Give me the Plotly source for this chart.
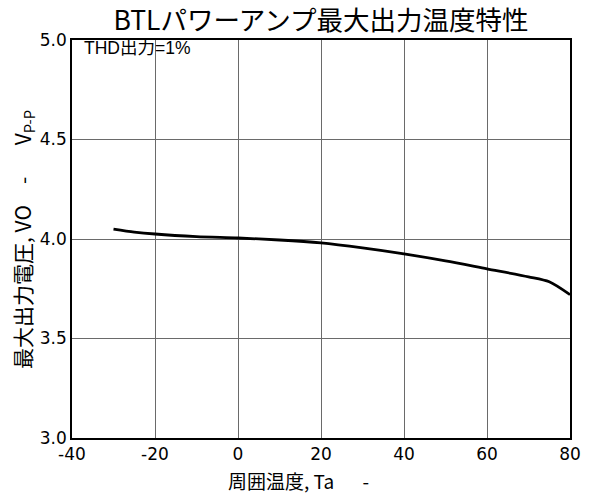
import plotly.graph_objects as go

temps = [-30, -25, -20, -10, 0, 10, 20, 30, 40, 50, 60, 70, 75, 80]
vout = [4.05, 4.035, 4.025, 4.012, 4.005, 3.995, 3.98, 3.955, 3.925, 3.89, 3.85, 3.81, 3.785, 3.72]
x_ticks = [-40, -20, 0, 20, 40, 60, 80]
y_ticks = [3.0, 3.5, 4.0, 4.5, 5.0]

CJK = "Noto Sans CJK JP, Noto Sans, sans-serif"
TICKF = "DejaVu Sans, Noto Sans CJK JP, sans-serif"

fig = go.Figure()
fig.add_trace(go.Scatter(x=temps, y=vout, mode="lines",
                         line=dict(color="black", width=2.8, shape="spline", smoothing=0.8),
                         showlegend=False, hoverinfo="skip"))

fig.update_layout(
    width=592, height=495,
    margin=dict(l=72, r=22, t=40, b=57),
    paper_bgcolor="white", plot_bgcolor="white",
    font=dict(family=CJK, size=16, color="black"),
    title=dict(text="BTLパワーアンプ最大出力温度特性", x=0.5, xanchor="center", xref="paper",
               y=0.9576, yanchor="middle", yref="container",
               font=dict(family=CJK, size=26.5, color="black")),
    annotations=[
        dict(text="THD出力=1%", x=0.02, y=1.0, xref="paper", yref="paper",
             xanchor="left", yanchor="top", yshift=4, showarrow=False,
             font=dict(family="Liberation Sans, Noto Sans CJK JP, sans-serif", size=17.5, color="black")),
        dict(text="周囲温度, Ta\u3000\u2002-", x=0.31, y=-0.108, xref="paper", yref="paper",
             xanchor="left", yanchor="middle", showarrow=False,
             font=dict(family=CJK, size=19, color="black")),
        dict(text="最大出力電圧, VO\u3000-\u3000\u2002V<sub>P-P</sub>", x=-0.0984, y=0.5,
             xref="paper", yref="paper", xanchor="center", yanchor="middle",
             textangle=-90, showarrow=False,
             font=dict(family=CJK, size=21, color="black")),
    ],
)
fig.update_xaxes(range=[-40, 80], tickvals=x_ticks, ticktext=[str(v) for v in x_ticks],
                 showgrid=True, gridcolor="#6a6a6a", gridwidth=1,
                 showline=True, linecolor="black", linewidth=1.5, mirror=True,
                 ticks="", zeroline=False, automargin=False,
                 tickfont=dict(family=TICKF, size=17, color="black"))
fig.update_yaxes(range=[3.0, 5.0], tickvals=y_ticks, ticktext=[f"{v:.1f}" for v in y_ticks],
                 showgrid=True, gridcolor="#6a6a6a", gridwidth=1,
                 showline=True, linecolor="black", linewidth=1.5, mirror=True,
                 ticks="", zeroline=False, automargin=False,
                 tickfont=dict(family=TICKF, size=17, color="black"))

fig.write_html("out.html", config={"displayModeBar": False},
               post_script="document.body.style.margin='0';")
